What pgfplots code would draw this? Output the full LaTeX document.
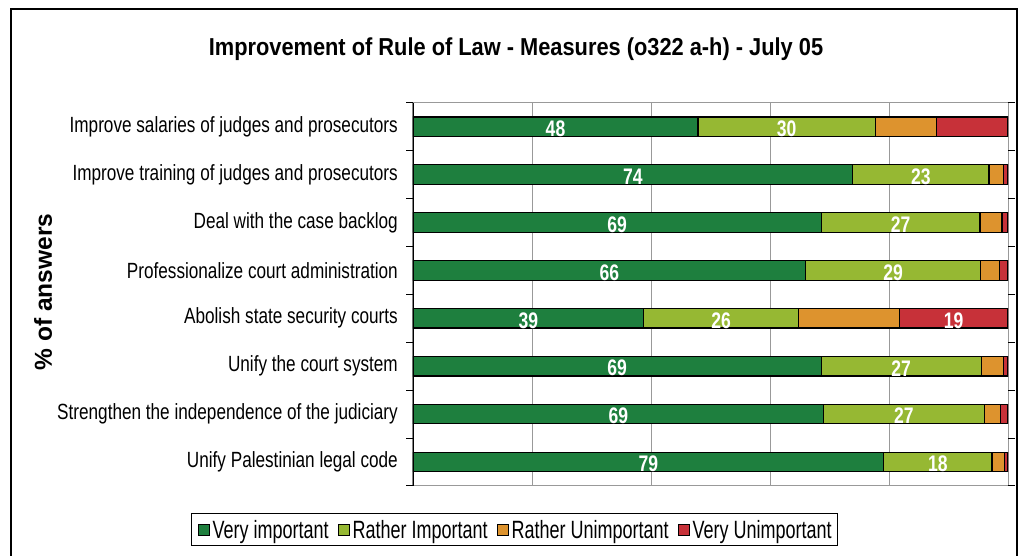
\documentclass[border=0pt]{standalone}
\usepackage{fontspec}
\setmainfont{Liberation Sans}[FakeStretch=0.78]
\newfontfamily\widefont{Liberation Sans}
\newfontfamily\titlefont{Liberation Sans}[FakeStretch=0.89]
\newfontfamily\legfont{Liberation Sans}[FakeStretch=0.72]
\usepackage{pgfplots}
\pgfplotsset{compat=1.18}
\usepackage{pgfplotstable}

\definecolor{cVI}{RGB}{30,127,62}
\definecolor{cRI}{RGB}{150,184,51}
\definecolor{cRU}{RGB}{221,147,46}
\definecolor{cVU}{RGB}{199,49,57}

\pgfplotstableread{
y G LG O R
1 47.9 29.8 10.3 12.0
2 73.9 22.9 2.4 0.8
3 68.6 26.7 3.7 1.0
4 66.0 29.4 3.2 1.4
5 38.8 26.0 16.9 18.3
6 68.6 26.9 3.7 0.8
7 69.0 27.0 2.8 1.2
8 79.1 18.2 2.1 0.6
}\data

\pgfplotstableread{
x y label
23.95 1 48
62.8 1 30
36.95 2 74
85.35 2 23
34.3 3 69
81.95 3 27
33.0 4 66
80.7 4 29
19.4 5 39
51.8 5 26
90.85 5 19
34.3 6 69
82.05 6 27
34.5 7 69
82.5 7 27
39.55 8 79
88.2 8 18
}\labels

\pgfplotsset{
  sq/.style={legend image code/.code={\draw[##1,draw=black,line width=0.9pt] (0pt,3pt) rectangle (11pt,14pt);}},
  geom/.style={at={(413pt,70pt)}, anchor=south west, scale only axis,
    width=595pt, height=383.3pt, xmin=0, xmax=100, ymin=0.5, ymax=8.5, y dir=reverse},
}

\begin{document}
\begin{tikzpicture}[x=1pt,y=1pt]
\useasboundingbox (0,0) rectangle (1021,556);
\fill[white] (0,0) rectangle (1021,556);
\draw[black, line width=1.3pt] (11,-5) rectangle (1017,547);
\node[font=\titlefont\fontsize{24.5}{27}\selectfont\bfseries] at (516,507) {Improvement of Rule of Law - Measures (o322 a-h) - July 05};
\node[rotate=90, font=\widefont\bfseries\fontsize{24.5}{28}\selectfont] at (43,264) {\% of answers};

\begin{axis}[geom,
  xbar stacked, bar width=19.5pt,
  xtick={0,20,40,60,80,100}, xticklabels={},
  ytick={1,...,8},
  yticklabels={Improve salaries of judges and prosecutors,
    Improve training of judges and prosecutors,
    Deal with the case backlog,
    Professionalize court administration,
    Abolish state security courts,
    Unify the court system,
    Strengthen the independence of the judiciary,
    Unify Palestinian legal code},
  major tick length=0pt,
  yticklabel style={anchor=east, inner sep=0pt, xshift=-15pt, font=\fontsize{22}{24}\selectfont},
  extra y ticks={0.5,1.5,2.5,3.5,4.5,5.5,6.5,7.5,8.5},
  extra y tick labels={},
  extra y tick style={major tick length=7pt, tick align=outside, tick style={black, line width=1pt}},
  xmajorgrids, major grid style={gray!80, line width=1pt},
  axis line style={draw=gray!80, line width=1pt},
  legend columns=4,
  legend style={at={(0.171,-0.114)}, anchor=center, draw=black, line width=0.8pt,
    font=\legfont\fontsize{25}{27}\selectfont, inner xsep=6pt, inner ysep=6pt,
    nodes={inner sep=0pt, anchor=base},
    /tikz/every odd column/.append style={column sep=3pt},
    /tikz/every even column/.append style={column sep=9pt}},
  legend cell align=left,
]
\addplot[fill=cVI, draw=black, line width=1.2pt, sq] table[x=G,y=y]{\data};
\addplot[fill=cRI, draw=black, line width=1.2pt, sq] table[x=LG,y=y]{\data};
\addplot[fill=cRU, draw=black, line width=1.2pt, sq] table[x=O,y=y]{\data};
\addplot[fill=cVU, draw=black, line width=1.2pt, sq] table[x=R,y=y]{\data};
\legend{Very important, Rather Important, Rather Unimportant, Very Unimportant}
\draw[black, line width=1.3pt] (rel axis cs:0,0) -- (rel axis cs:0,1);
\end{axis}

\begin{axis}[geom, hide axis]
\addplot[draw=none, mark=none, nodes near coords, point meta=explicit symbolic,
  nodes near coords style={anchor=center, text=white, yshift=-2pt, inner sep=0pt,
    font=\fontsize{22.5}{24}\selectfont\bfseries}]
  table[x=x,y=y,meta=label]{\labels};
\end{axis}
\end{tikzpicture}
\end{document}
